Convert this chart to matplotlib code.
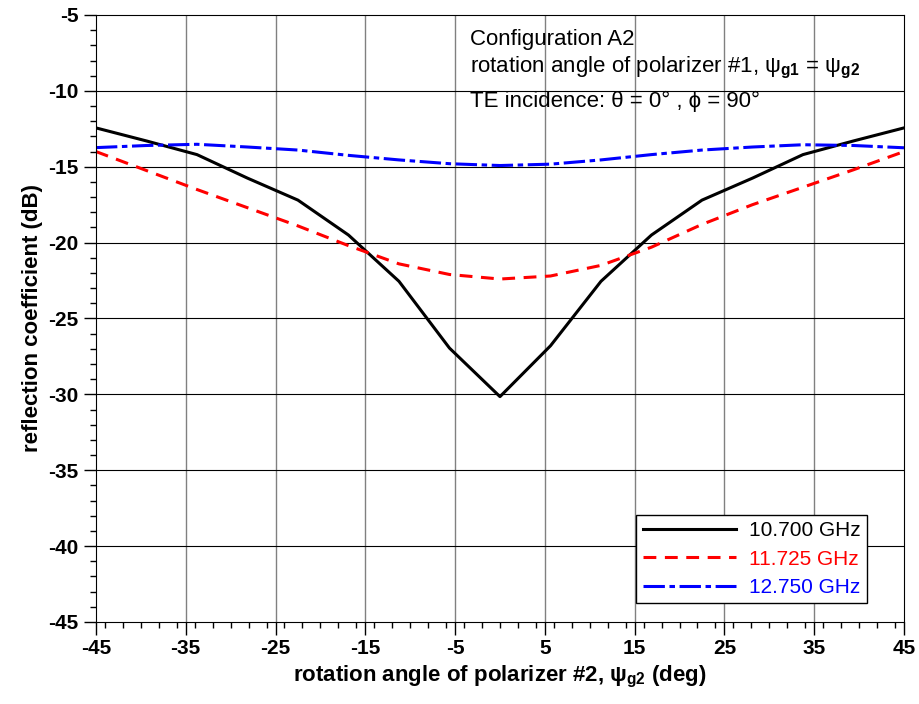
import matplotlib
matplotlib.use("Agg")
import matplotlib.pyplot as plt
from matplotlib.ticker import MultipleLocator

plt.rcParams["font.family"] = ["Liberation Sans", "DejaVu Sans"]
plt.rcParams["axes.unicode_minus"] = False
plt.rcParams["mathtext.fontset"] = "custom"
plt.rcParams["mathtext.rm"] = "Liberation Sans"
plt.rcParams["mathtext.it"] = "Liberation Sans:italic"
plt.rcParams["mathtext.bf"] = "Liberation Sans:bold"

# rotation angle of polarizer #2 (deg)
angle = [-45, -39.375, -33.75, -28.125, -22.5, -16.875, -11.25, -5.625, 0,
         5.625, 11.25, 16.875, 22.5, 28.125, 33.75, 39.375, 45]
# reflection coefficient (dB)
r_10700 = [-12.44, -13.3, -14.2, -15.75, -17.2, -19.5, -22.55, -26.95, -30.15,
           -26.8, -22.55, -19.5, -17.2, -15.75, -14.2, -13.3, -12.44]
r_11725 = [-14.0, -15.25, -16.5, -17.7, -18.9, -20.2, -21.4, -22.1, -22.4,
           -22.2, -21.5, -20.3, -18.8, -17.5, -16.35, -15.2, -14.0]
r_12750 = [-13.74, -13.6, -13.52, -13.7, -13.9, -14.25, -14.55, -14.8, -14.92,
           -14.83, -14.55, -14.2, -13.9, -13.7, -13.55, -13.6, -13.75]
labels = ["10.700 GHz", "11.725 GHz", "12.750 GHz"]
x_ticks = [-45, -35, -25, -15, -5, 5, 15, 25, 35, 45]

fig = plt.figure(figsize=(9.2, 7.04), dpi=100)
ax = fig.add_axes([0.1043, 0.1165, 0.8783, 0.8622])

ax.plot(angle, r_10700, color="black", lw=2.2, label=labels[0])
ax.plot(angle, r_11725, color="red", lw=2.2, dashes=(4.2, 2.8), label=labels[1])
ax.plot(angle, r_12750, color="blue", lw=2.2, dashes=(7, 1.5, 1.8, 1.5), label=labels[2])

ax.set_xlim(-45, 45)
ax.set_ylim(-45, -5)
ax.set_xticks(x_ticks)
ax.yaxis.set_major_locator(MultipleLocator(5))
ax.xaxis.set_minor_locator(MultipleLocator(2))
ax.yaxis.set_minor_locator(MultipleLocator(1))
ax.tick_params(which="major", direction="out", length=9, width=1, labelsize=15)
ax.tick_params(which="minor", direction="out", length=4, width=1)
for t in ax.get_xticklabels() + ax.get_yticklabels():
    t.set_fontweight("bold")

for xv in x_ticks[1:-1]:
    ax.axvline(xv, color="#808080", lw=1, zorder=0)
for yv in range(-40, -5, 5):
    ax.axhline(yv, color="black", lw=0.8, zorder=0)

ax.set_xlabel("rotation angle of polarizer #2, \u03c8$_{\\mathbf{g2}}$ (deg)",
              fontsize=16, fontweight="bold", labelpad=4)
ax.set_ylabel("reflection coefficient (dB)", fontsize=16, fontweight="bold", labelpad=4)

ax.text(0.463, 0.959, "Configuration A2", transform=ax.transAxes, fontsize=16, va="center")
ax.text(0.463, 0.913, "rotation angle of polarizer #1, \u03c8$_{\\mathbf{g1}}$ = \u03c8$_{\\mathbf{g2}}$",
        transform=ax.transAxes, fontsize=16, va="center")
ax.text(0.463, 0.858, "TE incidence: \u03b8 = 0\u00b0 , \u03d5 = 90\u00b0", transform=ax.transAxes,
        fontsize=16, va="center")

leg = ax.legend(loc="lower right", bbox_to_anchor=(0.954, 0.031), fontsize=15,
                fancybox=False, edgecolor="black", framealpha=1, handlelength=4.5,
                borderpad=0.3, labelspacing=0.45, handletextpad=0.6, borderaxespad=0)
leg.get_frame().set_linewidth(1)
for txt, c in zip(leg.get_texts(), ["black", "red", "blue"]):
    txt.set_color(c)

fig.savefig("out.png", dpi=100)
